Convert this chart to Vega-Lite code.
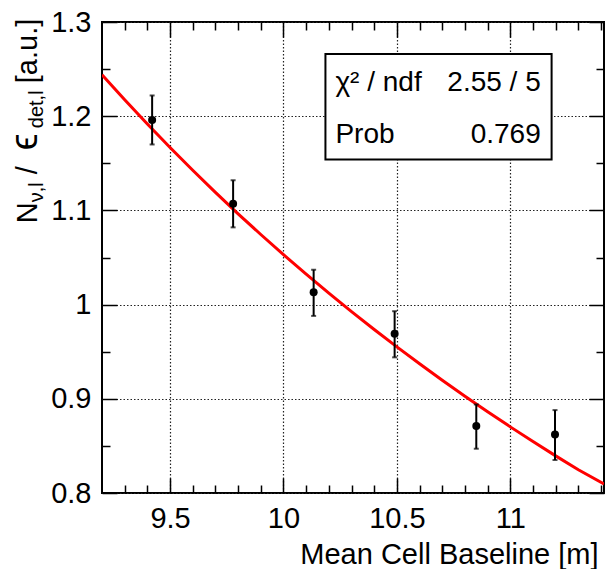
{
  "$schema": "https://vega.github.io/schema/vega-lite/v6.json",
  "autosize": {"type": "none"},
  "padding": {"left": 102, "top": 22, "right": 4, "bottom": 76},
  "width": 502,
  "height": 471,
  "background": "white",
  "datasets": {
    "pts": [
      {"L": 9.421, "N": 1.196, "lo": 1.170, "hi": 1.222},
      {"L": 9.778, "N": 1.107, "lo": 1.082, "hi": 1.132},
      {"L": 10.133, "N": 1.013, "lo": 0.988, "hi": 1.037},
      {"L": 10.49, "N": 0.969, "lo": 0.944, "hi": 0.993},
      {"L": 10.85, "N": 0.871, "lo": 0.847, "hi": 0.894},
      {"L": 11.197, "N": 0.862, "lo": 0.835, "hi": 0.888}
    ],
    "fit": [
      {"L": 9.2, "N": 1.2441}, {"L": 9.3, "N": 1.2175}, {"L": 9.4, "N": 1.1917},
      {"L": 9.5, "N": 1.1668}, {"L": 9.6, "N": 1.1426}, {"L": 9.7, "N": 1.1191},
      {"L": 9.8, "N": 1.0964}, {"L": 9.9, "N": 1.0744}, {"L": 10.0, "N": 1.053},
      {"L": 10.1, "N": 1.0323}, {"L": 10.2, "N": 1.0121}, {"L": 10.3, "N": 0.9926},
      {"L": 10.4, "N": 0.9736}, {"L": 10.5, "N": 0.9551}, {"L": 10.6, "N": 0.9372},
      {"L": 10.7, "N": 0.9197}, {"L": 10.8, "N": 0.9028}, {"L": 10.9, "N": 0.8863},
      {"L": 11.0, "N": 0.8702}, {"L": 11.1, "N": 0.8546}, {"L": 11.2, "N": 0.8394},
      {"L": 11.3, "N": 0.8247}, {"L": 11.413, "N": 0.8095}
    ],
    "box": [{"L": 10.185, "L2": 11.182, "N": 1.266, "N2": 1.154}],
    "txtL": [{"L": 10.229, "N": 1.2263, "t": "χ² / ndf"}, {"L": 10.229, "N": 1.1716, "t": "Prob"}],
    "txtR": [{"L": 11.134, "N": 1.2263, "t": "2.55 / 5"}, {"L": 11.134, "N": 1.1716, "t": "0.769"}]
  },
  "config": {
    "view": {"stroke": "black", "strokeWidth": 2},
    "axis": {
      "domain": false,
      "ticks": true,
      "labelFont": "Liberation Sans",
      "titleFont": "Liberation Sans",
      "labelColor": "black",
      "titleColor": "black",
      "tickColor": "#000000",
      "tickOpacity": 1,
      "tickWidth": 1.5,
      "titleFontWeight": "normal",
      "gridColor": "#222222",
      "gridDash": [1.5, 2],
      "gridWidth": 1.2,
      "gridOpacity": 1
    }
  },
  "resolve": {"axis": {"x": "independent", "y": "independent"}},
  "layer": [
    {
      "data": {"name": "fit"},
      "mark": {"type": "line", "color": "#ff0000", "strokeWidth": 3, "clip": true},
      "encoding": {
        "x": {
          "field": "L", "type": "quantitative",
          "scale": {"domain": [9.2, 11.413], "nice": false, "zero": false},
          "axis": {
            "orient": "bottom", "values": [9.5, 10, 10.5, 11], "format": "~g",
            "offset": -15, "ticks": true, "tickSize": 15, "grid": true, "labelFontSize": 29,
            "labelBaseline": "alphabetic", "labelPadding": 34.4, "labelFlush": false,
            "title": "Mean Cell Baseline [m]", "titleFontSize": 29,
            "titleX": 496, "titleY": 85.7, "titleAlign": "right", "titleBaseline": "alphabetic", "titleAngle": 0
          }
        },
        "y": {
          "field": "N", "type": "quantitative",
          "scale": {"domain": [0.8, 1.3], "nice": false, "zero": false},
          "axis": {
            "orient": "left", "values": [0.8, 0.9, 1, 1.1, 1.2, 1.3], "format": "~g",
            "offset": -15, "ticks": true, "tickSize": 15, "grid": true, "labelFontSize": 29,
            "labelAlign": "right", "labelBaseline": "middle", "labelPadding": 11, "labelFlush": false,
            "title": "N", "titleFontSize": 29, "titleAngle": 270, "titleAlign": "left",
            "titleBaseline": "alphabetic", "titleX": -80.5, "titleY": 200.7
          }
        }
      }
    },
    {
      "data": {"name": "pts"},
      "mark": {"type": "rule", "color": "black", "strokeWidth": 2},
      "encoding": {
        "x": {
          "field": "L", "type": "quantitative",
          "axis": {
            "orient": "bottom", "offset": -8, "ticks": true, "tickSize": 8,
            "values": [9.3, 9.4, 9.6, 9.7, 9.8, 9.9, 10.1, 10.2, 10.3, 10.4, 10.6, 10.7, 10.8, 10.9, 11.1, 11.2, 11.3, 11.4],
            "labels": false, "grid": false, "title": null
          }
        },
        "y": {
          "field": "lo", "type": "quantitative",
          "axis": {
            "orient": "left", "offset": -8, "ticks": true, "tickSize": 8,
            "values": [0.85, 0.95, 1.05, 1.15, 1.25],
            "labels": false, "grid": false,
            "title": "ν,l", "titleFontSize": 20, "titleAngle": 270, "titleAlign": "left",
            "titleBaseline": "alphabetic", "titleX": -68, "titleY": 179.7
          }
        },
        "y2": {"field": "hi"}
      }
    },
    {
      "data": {"name": "pts"},
      "mark": {"type": "circle", "color": "black", "size": 64, "opacity": 1},
      "encoding": {
        "x": {
          "field": "L", "type": "quantitative",
          "axis": {
            "orient": "top", "values": [9.5, 10, 10.5, 11], "offset": -15, "ticks": true, "tickSize": 15,
            "labels": false, "grid": false, "title": null
          }
        },
        "y": {
          "field": "N", "type": "quantitative",
          "axis": {
            "orient": "right", "values": [0.8, 0.9, 1, 1.1, 1.2, 1.3], "offset": -15, "ticks": true, "tickSize": 15,
            "labels": false, "grid": false,
            "title": "/", "titleFontSize": 29, "titleAngle": 270, "titleAlign": "left",
            "titleBaseline": "alphabetic", "titleX": -552.5, "titleY": 151.7
          }
        }
      }
    },
    {
      "data": {"name": "pts"},
      "mark": {"type": "tick", "orient": "horizontal", "color": "black", "size": 5, "thickness": 2},
      "encoding": {
        "x": {
          "field": "L", "type": "quantitative",
          "axis": {
            "orient": "top", "offset": -8, "ticks": true, "tickSize": 8,
            "values": [9.3, 9.4, 9.6, 9.7, 9.8, 9.9, 10.1, 10.2, 10.3, 10.4, 10.6, 10.7, 10.8, 10.9, 11.1, 11.2, 11.3, 11.4],
            "labels": false, "grid": false, "title": null
          }
        },
        "y": {
          "field": "hi", "type": "quantitative",
          "axis": {
            "orient": "right", "offset": -8, "ticks": true, "tickSize": 8,
            "values": [0.85, 0.95, 1.05, 1.15, 1.25],
            "labels": false, "grid": false,
            "title": "det,l", "titleFontSize": 20, "titleAngle": 270, "titleAlign": "left",
            "titleBaseline": "alphabetic", "titleX": -554, "titleY": 105.7
          }
        }
      }
    },
    {
      "data": {"name": "pts"},
      "mark": {"type": "tick", "orient": "horizontal", "color": "black", "size": 5, "thickness": 2},
      "encoding": {
        "x": {"field": "L", "type": "quantitative", "axis": null},
        "y": {
          "field": "lo", "type": "quantitative",
          "axis": {
            "orient": "left", "ticks": false, "labels": false, "grid": false,
            "title": "[a.u.]", "titleFontSize": 29, "titleAngle": 270, "titleAlign": "left",
            "titleBaseline": "alphabetic", "titleX": -65.5, "titleY": 60.7
          }
        }
      }
    },
    {
      "data": {"name": "box"},
      "mark": {"type": "rect", "fill": "white", "stroke": "black", "strokeWidth": 2},
      "encoding": {
        "x": {"field": "L", "type": "quantitative", "axis": null},
        "x2": {"field": "L2"},
        "y": {
          "field": "N", "type": "quantitative",
          "axis": {
            "orient": "right", "ticks": false, "labels": false, "grid": false,
            "title": "ϵ", "titleFontSize": 38, "titleAngle": 270, "titleAlign": "left",
            "titleBaseline": "alphabetic", "titleX": -567.5, "titleY": 127.7
          }
        },
        "y2": {"field": "N2"}
      }
    },
    {
      "data": {"name": "txtL"},
      "mark": {"type": "text", "align": "left", "baseline": "alphabetic", "font": "Liberation Sans", "fontSize": 28, "color": "black"},
      "encoding": {
        "x": {"field": "L", "type": "quantitative", "axis": null},
        "y": {"field": "N", "type": "quantitative", "axis": null},
        "text": {"field": "t"}
      }
    },
    {
      "data": {"name": "txtR"},
      "mark": {"type": "text", "align": "right", "baseline": "alphabetic", "font": "Liberation Sans", "fontSize": 28, "color": "black"},
      "encoding": {
        "x": {"field": "L", "type": "quantitative", "axis": null},
        "y": {"field": "N", "type": "quantitative", "axis": null},
        "text": {"field": "t"}
      }
    }
  ]
}
